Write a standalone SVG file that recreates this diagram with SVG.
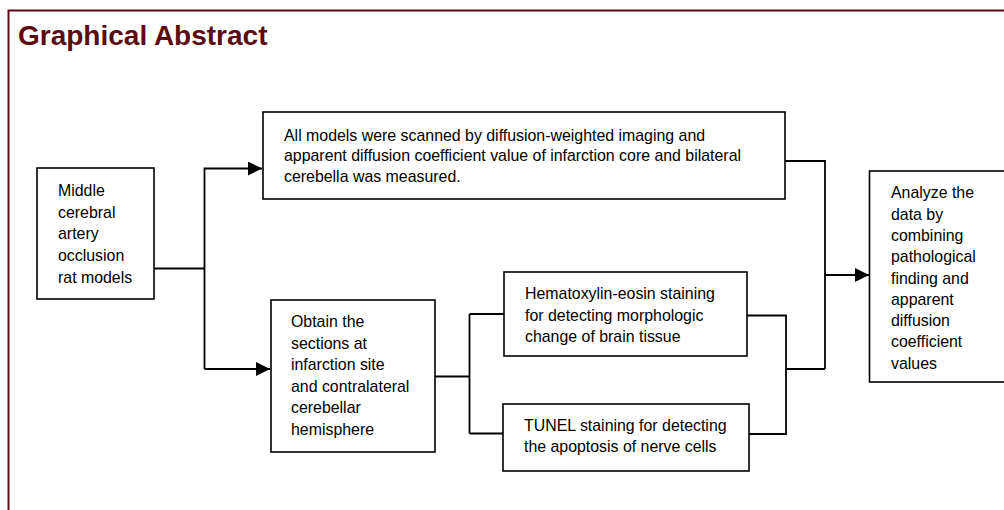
<svg xmlns="http://www.w3.org/2000/svg" width="1004" height="510" viewBox="0 0 1004 510">
  <style>
    .frame { fill: #ffffff; stroke: #5c0a14; stroke-width: 2; }
    .title { font-family: "Liberation Sans", Arial, sans-serif; font-weight: bold; font-size: 28px; fill: #5c0a14; }
    .box { fill: #ffffff; stroke: #000000; stroke-width: 1.6; }
    .label { font-family: "Liberation Sans", Arial, sans-serif; font-size: 15.9px; fill: #000000; }
    .wire { fill: none; stroke: #000000; stroke-width: 1.8; }
  </style>
  <defs>
    <marker id="arrow" viewBox="0 0 14 14" refX="14" refY="7" markerWidth="14" markerHeight="14" markerUnits="userSpaceOnUse" orient="auto">
      <path d="M0,0 L14,7 L0,14 Z" fill="#000000"/>
    </marker>
  </defs>

  <rect width="1004" height="510" fill="#ffffff"/>
  <rect class="frame" x="8.5" y="10.5" width="1010" height="520"/>
  <text class="title" x="18" y="45">Graphical Abstract</text>

  <!-- connectors -->
  <g id="connectors">
    <path class="wire" d="M154,268.5 H204.5"/>
    <path class="wire" d="M204.5,369 V168.5 H262" marker-end="url(#arrow)"/>
    <path class="wire" d="M204.5,369 H270" marker-end="url(#arrow)"/>
    <path class="wire" d="M435,376.5 H469.5 M469.5,314 V433.5 M469.5,314 H504 M469.5,433.5 H503"/>
    <path class="wire" d="M747,315.5 H786 V434 H749 M786,369 H825 M785,161 H825 V369"/>
    <path class="wire" d="M825,275 H869" marker-end="url(#arrow)"/>
  </g>

  <g id="node-mcao">
    <rect class="box" x="37" y="168" width="117" height="131"/>
    <text class="label" x="58" y="196">Middle</text>
    <text class="label" x="58" y="217.7">cerebral</text>
    <text class="label" x="58" y="239.4">artery</text>
    <text class="label" x="58" y="261">occlusion</text>
    <text class="label" x="58" y="282.7">rat models</text>
  </g>

  <g id="node-dwi">
    <rect class="box" x="263" y="112" width="522" height="87"/>
    <text class="label" x="284" y="140.5">All models were scanned by diffusion-weighted imaging and</text>
    <text class="label" x="284" y="161.2">apparent diffusion coefficient value of infarction core and bilateral</text>
    <text class="label" x="284" y="181.9">cerebella was measured.</text>
  </g>

  <g id="node-sections">
    <rect class="box" x="271" y="300" width="164" height="152"/>
    <text class="label" x="291" y="327">Obtain the</text>
    <text class="label" x="291" y="348.6">sections at</text>
    <text class="label" x="291" y="370.2">infarction site</text>
    <text class="label" x="291" y="391.8">and contralateral</text>
    <text class="label" x="291" y="413.4">cerebellar</text>
    <text class="label" x="291" y="435">hemisphere</text>
  </g>

  <g id="node-he">
    <rect class="box" x="504" y="272" width="243" height="84"/>
    <text class="label" x="525" y="299">Hematoxylin-eosin staining</text>
    <text class="label" x="525" y="320.5">for detecting morphologic</text>
    <text class="label" x="525" y="342">change of brain tissue</text>
  </g>

  <g id="node-tunel">
    <rect class="box" x="503" y="404" width="246" height="67"/>
    <text class="label" x="524" y="430.7">TUNEL staining for detecting</text>
    <text class="label" x="524" y="452.3">the apoptosis of nerve cells</text>
  </g>

  <g id="node-analyze">
    <rect class="box" x="869.5" y="171" width="150" height="211"/>
    <text class="label" x="891" y="198.3">Analyze the</text>
    <text class="label" x="891" y="219.6">data by</text>
    <text class="label" x="891" y="240.9">combining</text>
    <text class="label" x="891" y="262.2">pathological</text>
    <text class="label" x="891" y="283.5">finding and</text>
    <text class="label" x="891" y="304.8">apparent</text>
    <text class="label" x="891" y="326.1">diffusion</text>
    <text class="label" x="891" y="347.4">coefficient</text>
    <text class="label" x="891" y="368.7">values</text>
  </g>
</svg>
